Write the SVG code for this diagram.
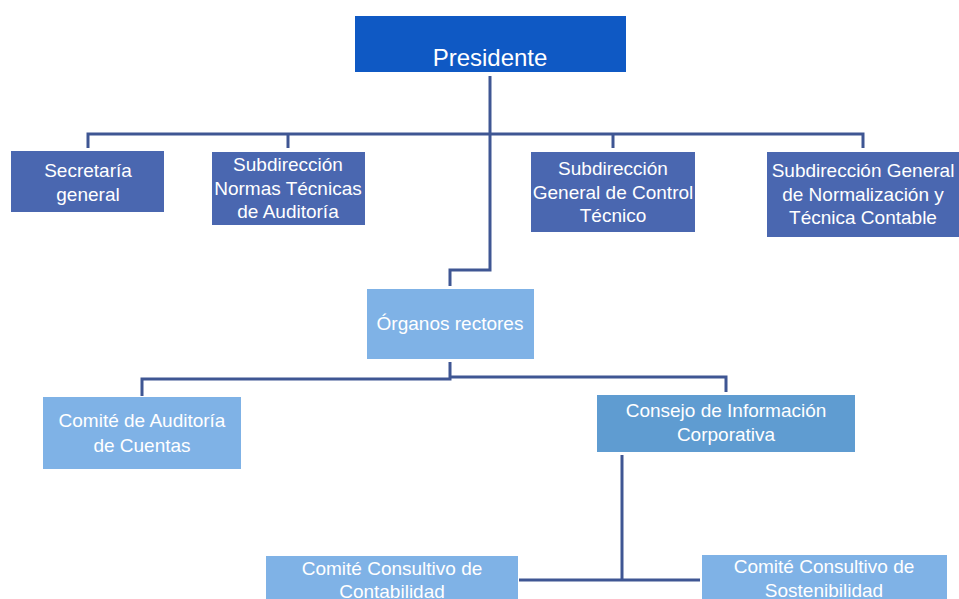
<svg xmlns="http://www.w3.org/2000/svg" width="959" height="599" viewBox="0 0 959 599">
<style>
.t{font-family:"Liberation Sans",Arial,sans-serif;font-size:19px;fill:#ffffff;text-anchor:middle}
.dark{fill:#4A67B0}
.light{fill:#7FB2E6}
.mid{fill:#5F9CD1}
.c{fill:none;stroke:#3F5693;stroke-width:3}
</style>
<rect width="959" height="599" fill="#ffffff"/>
<g id="connectors">
<path class="c" d="M490 76 V134"/>
<path class="c" d="M88 148 V134 H863 V148"/>
<path class="c" d="M288 134 V148"/>
<path class="c" d="M613 134 V148"/>
<path class="c" d="M490 134 V270 H450 V286"/>
<path class="c" d="M450 362 V379 H142 V396"/>
<path class="c" d="M450 377 H726 V392"/>
<path class="c" d="M622 455 V579"/>
<path class="c" d="M519 580 H622 H700"/>
</g>
<g id="presidente">
<rect x="355" y="16" width="271" height="56" fill="#0F59C4"/>
<text class="t" x="490" y="66" style="font-size:24px">Presidente</text>
</g>
<g id="secretaria">
<rect class="dark" x="11" y="151" width="153" height="61"/>
<text class="t" x="88" y="177">Secretaría</text>
<text class="t" x="88" y="201">general</text>
</g>
<g id="normas">
<rect class="dark" x="212" y="152" width="153" height="73"/>
<text class="t" x="288" y="171">Subdirección</text>
<text class="t" x="288" y="195">Normas Técnicas</text>
<text class="t" x="288" y="218">de Auditoría</text>
</g>
<g id="control">
<rect class="dark" x="531" y="152" width="164" height="80"/>
<text class="t" x="613" y="175">Subdirección</text>
<text class="t" x="613" y="199">General de Control</text>
<text class="t" x="613" y="222">Técnico</text>
</g>
<g id="normalizacion">
<rect class="dark" x="767" y="152" width="192" height="85"/>
<text class="t" x="863" y="177">Subdirección General</text>
<text class="t" x="863" y="201">de Normalización y</text>
<text class="t" x="863" y="224">Técnica Contable</text>
</g>
<g id="organos">
<rect class="light" x="367" y="289" width="167" height="70"/>
<text class="t" x="450" y="330">Órganos rectores</text>
</g>
<g id="auditoria">
<rect class="light" x="43" y="397" width="198" height="72"/>
<text class="t" x="142" y="427">Comité de Auditoría</text>
<text class="t" x="142" y="452">de Cuentas</text>
</g>
<g id="consejo">
<rect class="mid" x="597" y="395" width="258" height="57"/>
<text class="t" x="726" y="417">Consejo de Información</text>
<text class="t" x="726" y="441">Corporativa</text>
</g>
<g id="contabilidad">
<rect class="light" x="266" y="556" width="252" height="43"/>
<text class="t" x="392" y="575">Comité Consultivo de</text>
<text class="t" x="392" y="598">Contabilidad</text>
</g>
<g id="sostenibilidad">
<rect class="light" x="702" y="555" width="245" height="44"/>
<text class="t" x="824" y="573">Comité Consultivo de</text>
<text class="t" x="824" y="597">Sostenibilidad</text>
</g>
</svg>
